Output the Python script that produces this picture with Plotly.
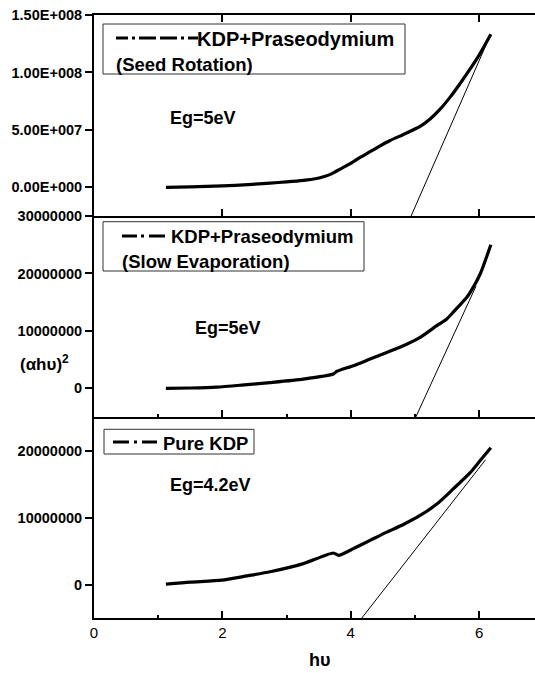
import plotly.graph_objects as go
from plotly.subplots import make_subplots

# ---------------- data ----------------
hv_top = [1.12, 1.5, 2.0, 2.4, 2.743, 3.0, 3.262, 3.45, 3.60, 3.70, 3.781, 3.890, 3.990, 4.145, 4.301,
          4.457, 4.613, 4.820, 5.080, 5.236, 5.392, 5.548, 5.704, 5.860, 6.016, 6.182]
val_top = [0.0, 0.3e6, 1.2e6, 2.3e6, 3.7e6, 4.7e6, 6.0e6, 7.4e6, 9.6e6, 1.17e7, 1.42e7, 1.75e7, 2.06e7,
           2.6e7, 3.1e7, 3.6e7, 4.07e7, 4.6e7, 5.3e7, 5.95e7, 6.8e7, 7.85e7, 9.04e7, 1.03e8, 1.166e8, 1.332e8]

hv_mid = [1.12, 1.5, 1.91, 2.3, 2.743, 3.262, 3.729, 3.781, 4.041, 4.301, 4.561, 4.820,
          5.080, 5.340, 5.496, 5.600, 5.808, 5.860, 6.016, 6.182]
val_mid = [0.0, 0.05e6, 0.2e6, 0.55e6, 1.0e6, 1.6e6, 2.48e6, 2.93e6, 3.93e6, 5.1e6, 6.25e6, 7.42e6,
           8.87e6, 1.09e7, 1.208e7, 1.33e7, 1.585e7, 1.67e7, 1.99e7, 2.50e7]

hv_bot = [1.12, 1.5, 1.99, 2.38, 2.743, 3.262, 3.729, 3.81, 4.041, 4.301, 4.561, 4.820,
          5.080, 5.340, 5.600, 5.860, 6.016, 6.182]
val_bot = [0.05e6, 0.35e6, 0.64e6, 1.28e6, 1.9e6, 3.12e6, 4.7e6, 4.35e6, 5.35e6, 6.58e6, 7.82e6, 8.96e6,
           1.03e7, 1.20e7, 1.43e7, 1.67e7, 1.85e7, 2.04e7]

# tangent (extrapolation) lines
tan_top_x = [4.94, 6.10]
tan_top_y = [-2.5e7, 1.23e8]
tan_mid_x = [5.013, 5.95]
tan_mid_y = [-5e6, 1.777e7]
tan_bot_x = [4.172, 6.10]
tan_bot_y = [-5e6, 1.862e7]

# axis ticks
top_tickvals = [0, 5e7, 1e8, 1.5e8]
top_ticktext = ["0.00E+000", "5.00E+007", "1.00E+008", "1.50E+008"]
mid_tickvals = [0, 1e7, 2e7, 3e7]
mid_ticktext = ["0", "10000000", "20000000", "30000000"]
bot_tickvals = [0, 1e7, 2e7]
bot_ticktext = ["0", "10000000", "20000000"]
x_tickvals = [0, 2, 4, 6]
x_ticktext = ["0", "2", "4", "6"]

legend_names = ["KDP+Praseodymium", "KDP+Praseodymium", "Pure KDP"]
legend_sub = ["(Seed Rotation)", "(Slow Evaporation)"]
eg_labels = ["Eg=5eV", "Eg=5eV", "Eg=4.2eV"]

# ---------------- figure ----------------
FONT = "Liberation Sans, Arial, sans-serif"
fig = make_subplots(rows=3, cols=1, shared_xaxes=True, vertical_spacing=0)

series = [(hv_top, val_top, tan_top_x, tan_top_y),
          (hv_mid, val_mid, tan_mid_x, tan_mid_y),
          (hv_bot, val_bot, tan_bot_x, tan_bot_y)]
for i, (hx, hy, tx, ty) in enumerate(series, start=1):
    fig.add_trace(go.Scatter(x=hx, y=hy, mode="lines", name=legend_names[i - 1],
                             line=dict(color="black", width=3.2, shape="spline", smoothing=0.6)),
                  row=i, col=1)
    fig.add_trace(go.Scatter(x=tx, y=ty, mode="lines", showlegend=False,
                             line=dict(color="black", width=1)), row=i, col=1)

PL, PR, PT, PB = 94, 535, 15, 618
W, H = 535, 673


def px(x):
    return (x - PL) / (PR - PL)


def py(y):
    return (PB - y) / (PB - PT)


xcommon = dict(range=[0, 6.87], showline=True, linecolor="black", linewidth=2,
               ticks="inside", ticklen=7, tickwidth=1.5, tickcolor="black",
               tickvals=x_tickvals, ticktext=x_ticktext,
               showgrid=False, zeroline=False,
               tickfont=dict(family=FONT, size=15, color="black"))
fig.update_xaxes(**xcommon)
fig.update_xaxes(mirror="ticks", row=1, col=1)
for r in (2, 3):
    fig.update_xaxes(minor=dict(ticks="inside", ticklen=3.5, tickwidth=1.5, tickcolor="black",
                                tickvals=[1, 3, 5]), row=r, col=1)

ycommon = dict(showline=True, linecolor="black", linewidth=2, ticks="outside",
               ticklen=7, tickwidth=1.5, tickcolor="black", showgrid=False, zeroline=False,
               tickfont=dict(family=FONT, size=14.5, color="black", weight="bold"))
fig.update_yaxes(**ycommon)
fig.update_yaxes(range=[-2.5e7, 1.5e8], tickvals=top_tickvals, ticktext=top_ticktext, row=1, col=1)
fig.update_yaxes(range=[-5e6, 3e7], tickvals=mid_tickvals, ticktext=mid_ticktext, row=2, col=1)
fig.update_yaxes(range=[-5e6, 2.5e7], tickvals=bot_tickvals, ticktext=bot_ticktext, row=3, col=1)

# ---------------- legend boxes, samples and labels ----------------
shapes = []
annotations = []
boxes = [(103, 24, 405, 74), (103, 221.7, 364, 271), (104, 429.3, 254, 454)]
for (x0, y0, x1, y1) in boxes:
    shapes.append(dict(type="rect", xref="paper", yref="paper",
                       x0=px(x0), x1=px(x1), y0=py(y1), y1=py(y0),
                       line=dict(color="#333333", width=1), fillcolor="rgba(0,0,0,0)"))

samples = [(116, 198, 38, "12px,4px,3px,4px,17px,4px,17px,4px,3px,4px,10px,200px"),
           (122, 167, 236, "15px,4px,3px,5px,16px,200px"),
           (113, 157, 442, "16px,5px,3px,5px,15px,200px")]
for (x0, x1, yy, dash) in samples:
    shapes.append(dict(type="line", xref="paper", yref="paper",
                       x0=px(x0), x1=px(x1), y0=py(yy), y1=py(yy),
                       line=dict(color="black", width=3, dash=dash)))


def text(t, x, y, size, anchor="left"):
    annotations.append(dict(text=t, xref="paper", yref="paper", x=px(x), y=py(y),
                            xanchor=anchor, yanchor="middle", showarrow=False, borderpad=0,
                            font=dict(family=FONT, size=size, color="black", weight="bold")))


text(legend_names[0], 196, 39, 20)
text(legend_sub[0], 115, 65, 18.5)
text(eg_labels[0], 169, 118, 18)
text(legend_names[1], 170, 236, 18.5)
text(legend_sub[1], 121, 261.5, 18.5)
text(eg_labels[1], 194, 328, 18)
text(legend_names[2], 162, 443, 18.5)
text(eg_labels[2], 169, 485, 18)

text("(αhυ)<sup style='font-size:11px'>2</sup>", 19, 363, 17)
text("hυ", 319, 660, 18, anchor="center")

fig.update_layout(width=W, height=H, margin=dict(l=PL, r=W - PR, t=PT, b=H - PB),
                  plot_bgcolor="white", paper_bgcolor="white", showlegend=False,
                  shapes=shapes, annotations=annotations,
                  font=dict(family=FONT, color="black"))

fig.write_html("out.html")
